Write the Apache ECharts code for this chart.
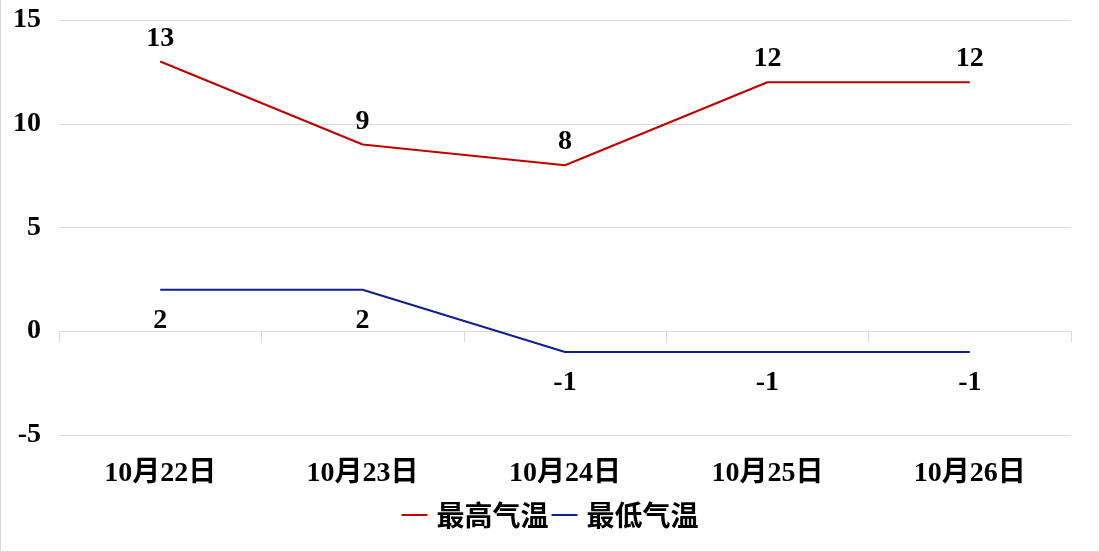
<!DOCTYPE html>
<html><head><meta charset="utf-8">
<script src="https://cdn.jsdelivr.net/npm/echarts@6/dist/echarts.min.js"></script>
<style>html,body{margin:0;padding:0;background:#fff}
#c{width:1100px;height:552px;box-sizing:border-box;border:1px solid #d9d9d9;border-top:none}</style>
</head><body><div id="c"></div>
<script>
const categories = ['10月22日','10月23日','10月24日','10月25日','10月26日'];
const highTemps = [13, 9, 8, 12, 12];
const lowTemps = [2, 2, -1, -1, -1];
const seriesNames = ['最高气温','最低气温'];
const yTicks = {min: -5, max: 15, interval: 5};

const FONT = '"Liberation Serif","Times New Roman","Noto Sans CJK SC",serif';
const chart = echarts.init(document.getElementById('c'));
chart.setOption({
  animation: false,
  grid: {left: 58, right: 28, top: 20, bottom: 116, containLabel: false},
  legend: {
    bottom: 17, left: 'center', itemWidth: 26, itemHeight: 10, itemGap: 3,
    icon: 'path://M0,4 L26,4 L26,6 L0,6 Z',
    textStyle: {fontFamily: '"Noto Sans CJK SC",sans-serif', fontSize: 28, fontWeight: 'bold', color: '#000', padding: [0, 0, 0, 4]},
    data: seriesNames
  },
  xAxis: [{
    type: 'category', data: categories, boundaryGap: true,
    axisLine: {onZero: true, lineStyle: {color: '#d9d9d9', width: 1}},
    axisTick: {show: true, length: 11, lineStyle: {color: '#d9d9d9'}},
    axisLabel: {show: false}
  }, {
    type: 'category', data: categories, boundaryGap: true, position: 'bottom',
    axisLine: {show: false, onZero: false}, axisTick: {show: false},
    axisLabel: {margin: 25, fontFamily: FONT, fontSize: 28, fontWeight: 'bold', color: '#000'}
  }],
  yAxis: {
    type: 'value', min: yTicks.min, max: yTicks.max, interval: yTicks.interval,
    axisLine: {show: false}, axisTick: {show: false},
    splitLine: {lineStyle: {color: '#d9d9d9', width: 1}},
    axisLabel: {margin: 18, fontFamily: FONT, fontSize: 28, fontWeight: 'bold', color: '#000'}
  },
  series: [{
    name: seriesNames[0], type: 'line', data: highTemps, xAxisIndex: 0,
    symbol: 'circle', symbolSize: 0, showSymbol: true,
    lineStyle: {color: '#C00000', width: 2}, itemStyle: {color: '#C00000'},
    label: {show: true, position: 'top', distance: 9, fontFamily: FONT, fontSize: 28, fontWeight: 'bold', color: '#000'}
  }, {
    name: seriesNames[1], type: 'line', data: lowTemps, xAxisIndex: 0,
    symbol: 'circle', symbolSize: 0, showSymbol: true,
    lineStyle: {color: '#0F1F8F', width: 2}, itemStyle: {color: '#0F1F8F'},
    label: {show: true, position: 'bottom', distance: 17, fontFamily: FONT, fontSize: 28, fontWeight: 'bold', color: '#000'}
  }]
});
</script></body></html>
